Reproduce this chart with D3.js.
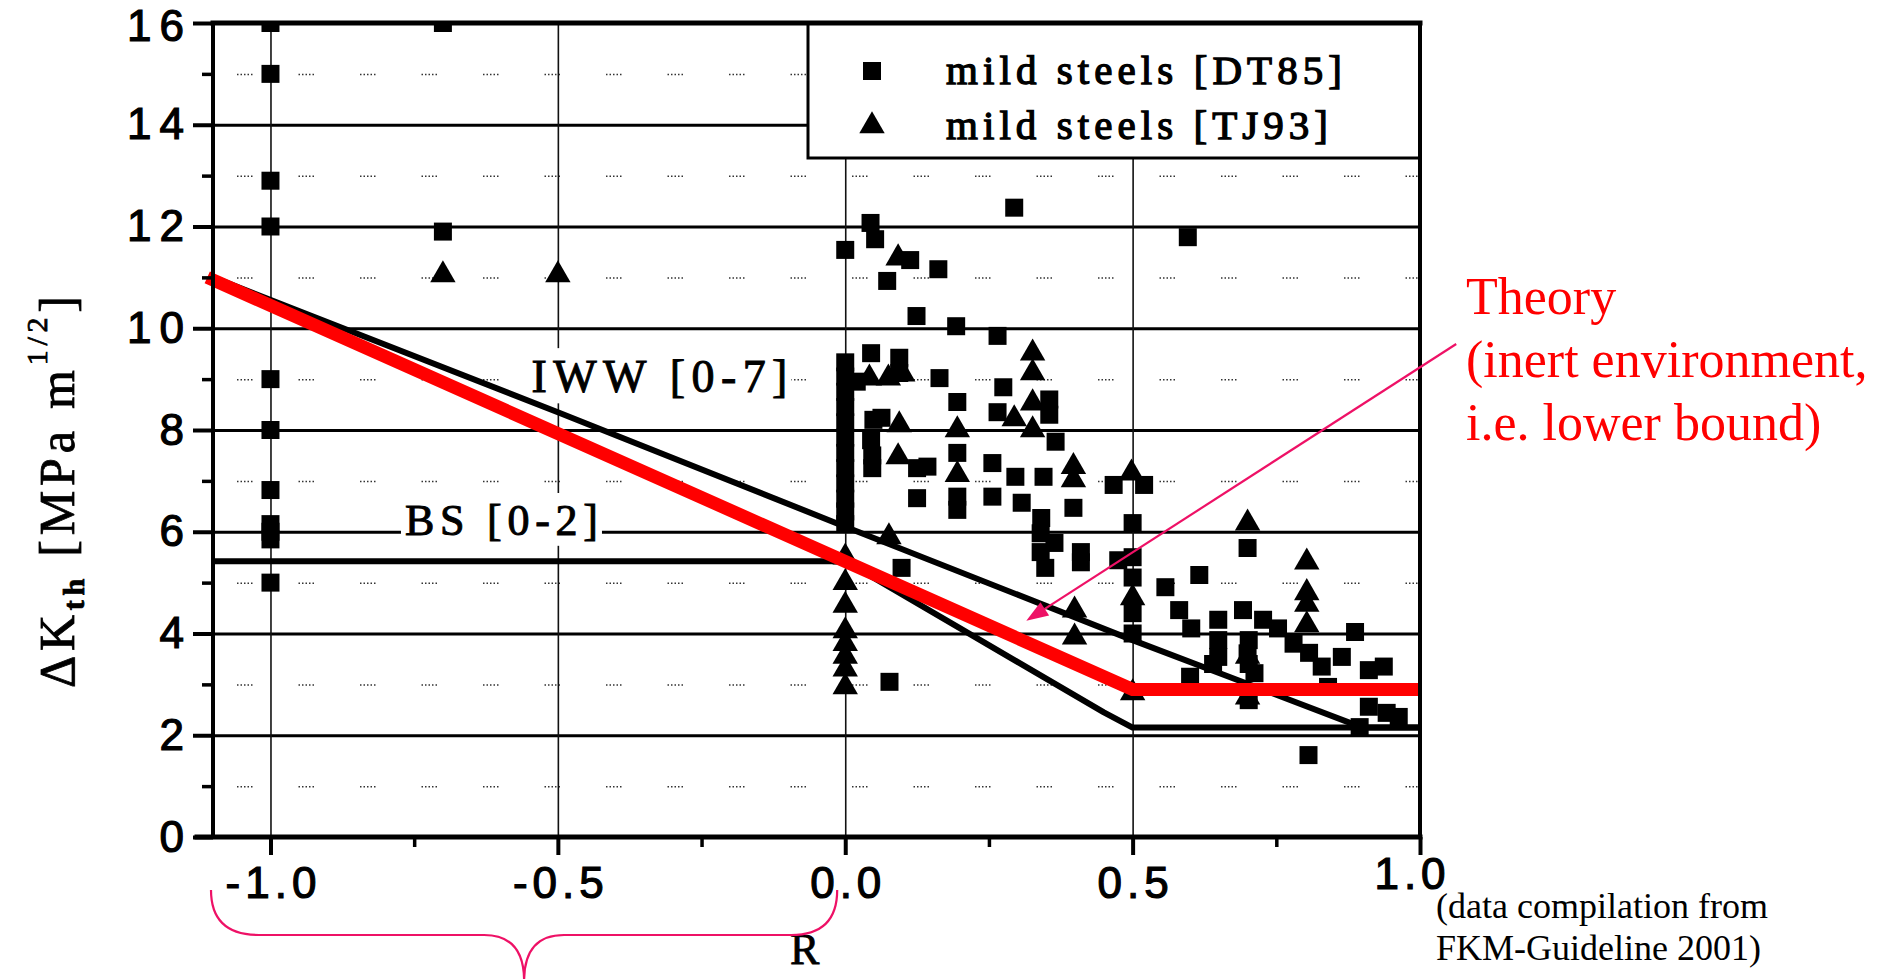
<!DOCTYPE html>
<html lang="en">
<head>
    <meta charset="UTF-8">
    <title>Threshold dKth vs R - mild steels</title>
    <script src="https://cdn.jsdelivr.net/npm/d3@7"></script>
    <style>
        body { margin: 0; background: #fff; }
        svg { display: block; background: #fff; }
    </style>
</head>
<body>
<script>

    // mild steels [DT85]  (R, dKth)
    var dt85 = [
        [-1.0,16.0],[-1.0,15.0],[-1.0,12.9],[-1.0,12.0],[-1.0,9.0],[-1.0,8.0],[-1.0,6.82],[-1.0,6.15],[-1.0,6.0],[-1.0,5.85],[-1.0,5.0],
        [-0.7,16.0],[-0.7,11.9],
        [0.0,11.54],[0.0,9.33],[0.0,9.05],[0.0,8.75],[0.0,8.45],[0.0,8.15],[0.0,7.85],[0.0,7.55],[0.0,7.25],[0.0,6.95],[0.0,6.65],[0.0,6.4],[0.0,6.15],[0.02,8.95],
        [0.044,12.07],[0.052,11.75],[0.113,11.34],[0.162,11.16],[0.073,10.93],[0.124,10.24],[0.193,10.04],[0.265,9.85],[0.294,12.37],[0.596,11.79],
        [0.045,9.51],[0.094,9.42],[0.094,9.12],[0.164,9.02],[0.275,8.84],[0.195,8.55],[0.355,8.6],[0.355,8.3],[0.265,8.35],[0.366,7.77],
        [0.049,8.2],[0.063,8.24],[0.045,7.8],[0.047,7.5],[0.047,7.25],[0.195,7.55],[0.195,6.69],[0.195,6.43],[0.125,7.25],[0.143,7.28],[0.125,6.66],
        [0.256,7.35],[0.296,7.08],[0.256,6.69],[0.345,7.08],[0.307,6.57],[0.397,6.47],[0.341,6.27],
        [0.467,6.92],[0.52,6.92],[0.5,6.17],[0.098,5.29],[0.077,3.05],
        [0.34,5.97],[0.34,5.6],[0.364,5.78],[0.348,5.29],[0.41,5.6],[0.41,5.4],
        [0.475,5.44],[0.5,5.5],[0.5,5.1],[0.5,4.4],[0.5,4.0],
        [0.557,4.91],[0.616,5.15],[0.7,5.68],[0.581,4.46],[0.602,4.1],[0.649,4.27],[0.649,3.87],[0.649,3.54],[0.64,3.4],[0.6,3.15],
        [0.692,4.46],[0.727,4.27],[0.753,4.1],[0.702,3.87],[0.7,3.61],[0.702,3.4],[0.712,3.22],[0.702,2.69],
        [0.887,4.03],[0.78,3.8],[0.807,3.62],[0.829,3.35],[0.864,3.54],[0.84,2.95],[0.911,3.28],[0.937,3.35],
        [0.911,2.56],[0.942,2.44],[0.963,2.36],[0.895,2.16],[0.806,1.61]
    ];

    // mild steels [TJ93]
    var tj93 = [
        [-0.7,11.05],[-0.5,11.05],
        [0.092,11.38],[0.326,9.51],[0.326,9.12],[0.042,9.02],[0.075,9.02],[0.1,9.1],[0.326,8.53],[0.294,8.22],[0.326,8.0],
        [0.094,8.1],[0.092,7.47],[0.195,8.0],[0.195,7.12],[0.397,7.28],[0.397,7.02],[0.498,7.15],
        [0.0,5.5],[0.0,5.0],[0.0,4.55],[0.0,4.05],[0.0,3.8],[0.0,3.55],[0.0,3.3],[0.0,2.95],
        [0.076,5.9],[0.399,4.46],[0.399,3.93],[0.5,4.7],[0.5,2.83],[0.7,6.17],
        [0.803,5.4],[0.803,4.8],[0.803,4.57],[0.803,4.17],[0.7,3.55],[0.7,2.75]
    ];

    // design curves
    var iwwCurve = [[-1.1, 11.0], [-0.5, 8.35], [0.0, 6.1], [0.5, 3.87], [0.9, 2.15], [1.0, 2.15]];
    var bsCurve = [[-1.1, 5.42], [0.0, 5.42], [0.2, 4.1], [0.45, 2.45], [0.5, 2.15], [1.0, 2.15]];
    var theoryCurve = [[-1.11, 11.0], [0.5, 2.9], [1.0, 2.9]];

    var yMajor = [0, 2, 4, 6, 8, 10, 12, 14, 16];
    var yMinor = [1, 3, 5, 7, 9, 11, 13, 15];
    var yGrid = [2, 4, 6, 8, 10, 12, 14];
    var xMajor = [-1.0, -0.5, 0.0, 0.5, 1.0];
    var xMinor = [-0.75, -0.25, 0.25, 0.75];
    var xGrid = [-1.0, -0.5, 0.0, 0.5];

    var legendText = ["mild steels [DT85]", "mild steels [TJ93]"];
    var theoryText = ["Theory", "(inert environment,", "i.e. lower bound)"];
    var noteText = ["(data compilation from", "FKM-Guideline 2001)"];

    var width = 1890;
    var height = 979;
    var serif = "'Liberation Serif', 'Times New Roman', serif";
    var sans = "'Liberation Sans', Arial, sans-serif";
    var pink = "#ee1166";

    var svg = d3.select("body")
        .append("svg")
        .attr("width", width)
        .attr("height", height);

    var x = d3.scaleLinear().domain([-1.1, 1.0]).range([213, 1420]);
    var y = d3.scaleLinear().domain([0, 16]).range([837, 23]);
    var plotW = x.range()[1] - x.range()[0];
    var plotH = y.range()[0] - y.range()[1];

    // grid
    svg.append("g")
        .attr("transform", "translate(" + x.range()[0] + ",0)")
        .call(d3.axisLeft(y).tickValues(yGrid).tickSize(-plotW).tickFormat(""))
        .call(function (g) { g.select(".domain").remove(); })
        .selectAll("line")
        .attr("stroke", "#000")
        .attr("stroke-width", 3);

    svg.append("g")
        .attr("transform", "translate(" + x.range()[0] + ",0)")
        .call(d3.axisLeft(y).tickValues(yMinor).tickSize(-plotW).tickFormat(""))
        .call(function (g) { g.select(".domain").remove(); })
        .selectAll("line")
        .attr("stroke", "#333")
        .attr("stroke-width", 1.5)
        .attr("stroke-dasharray", "1.5 2 1.5 2 1.5 2 1.5 2 1.5 46")
        .attr("stroke-dashoffset", -24);

    svg.append("g")
        .attr("transform", "translate(0," + y.range()[0] + ")")
        .call(d3.axisBottom(x).tickValues(xGrid).tickSize(-plotH).tickFormat(""))
        .call(function (g) { g.select(".domain").remove(); })
        .selectAll("line")
        .attr("stroke", "#111")
        .attr("stroke-width", 1.6);

    // curve labels with white boxes
    var curveLabels = [
        {text: "IWW [0-7]", r: -0.546, k: 8.75, size: 46, len: 256},
        {text: "BS [0-2]", r: -0.766, k: 5.94, size: 44, len: 193}
    ];
    curveLabels.forEach(function (d) {
        svg.append("rect")
            .attr("x", x(d.r) - 4)
            .attr("y", y(d.k) - d.size * 0.95)
            .attr("width", d.len + 8)
            .attr("height", d.size * 1.2)
            .attr("fill", "#fff");
        svg.append("text")
            .attr("x", x(d.r))
            .attr("y", y(d.k))
            .attr("font-family", serif)
            .attr("font-size", d.size)
            .attr("textLength", d.len)
            .attr("lengthAdjust", "spacing")
            .attr("stroke", "#000")
            .attr("stroke-width", 1)
            .text(d.text);
    });

    var line = d3.line()
        .x(function (d) { return x(d[0]); })
        .y(function (d) { return y(d[1]); });

    svg.append("path")
        .datum(bsCurve)
        .attr("d", line)
        .attr("fill", "none")
        .attr("stroke", "#000")
        .attr("stroke-width", 6)
        .attr("stroke-linejoin", "round");

    svg.append("path")
        .datum(iwwCurve)
        .attr("d", line)
        .attr("fill", "none")
        .attr("stroke", "#000")
        .attr("stroke-width", 6)
        .attr("stroke-linejoin", "round");

    // data
    svg.append("clipPath").attr("id", "plotClip")
        .append("rect")
        .attr("x", x.range()[0])
        .attr("y", y.range()[1])
        .attr("width", plotW)
        .attr("height", plotH);

    var marks = svg.append("g").attr("clip-path", "url(#plotClip)");
    var square = d3.symbol().type(d3.symbolSquare).size(324);
    var triangle = d3.symbol().type(d3.symbolTriangle).size(280);

    marks.selectAll("path.dt85")
        .data(dt85)
        .enter()
        .append("path")
        .attr("class", "dt85")
        .attr("d", square)
        .attr("transform", function (d) { return "translate(" + x(d[0]) + "," + y(d[1]) + ")"; })
        .attr("fill", "#000");

    marks.selectAll("path.tj93")
        .data(tj93)
        .enter()
        .append("path")
        .attr("class", "tj93")
        .attr("d", triangle)
        .attr("transform", function (d) { return "translate(" + x(d[0]) + "," + y(d[1]) + ")"; })
        .attr("fill", "#000");

    // theory line
    svg.append("path")
        .datum(theoryCurve)
        .attr("d", line)
        .attr("fill", "none")
        .attr("stroke", "#ff0000")
        .attr("stroke-width", 13)
        .attr("stroke-linejoin", "miter");

    // legend
    var lx = 808, ly = y.range()[1];
    svg.append("rect")
        .attr("x", lx)
        .attr("y", ly)
        .attr("width", x.range()[1] - lx)
        .attr("height", 135)
        .attr("fill", "#fff")
        .attr("stroke", "#000")
        .attr("stroke-width", 3);

    var legend = svg.selectAll("g.legend")
        .data(legendText)
        .enter()
        .append("g")
        .attr("class", "legend")
        .attr("transform", function (d, i) { return "translate(" + (lx + 64) + "," + (ly + 48 + i * 55) + ")"; });

    legend.append("path")
        .attr("d", function (d, i) { return i === 0 ? square() : triangle(); })
        .attr("fill", "#000");

    legend.append("text")
        .attr("x", 74)
        .attr("y", 13)
        .attr("font-family", serif)
        .attr("font-size", 41)
        .attr("textLength", function (d, i) { return i === 0 ? 396 : 382; })
        .attr("lengthAdjust", "spacing")
        .attr("stroke", "#000")
        .attr("stroke-width", 1.3)
        .text(function (d) { return d; });

    // frame
    var frame = svg.append("g").attr("stroke", "#000").attr("stroke-linecap", "square");
    frame.append("line").attr("x1", x.range()[0]).attr("x2", x.range()[0]).attr("y1", y.range()[1]).attr("y2", y.range()[0]).attr("stroke-width", 4);
    frame.append("line").attr("x1", x.range()[1]).attr("x2", x.range()[1]).attr("y1", y.range()[1]).attr("y2", y.range()[0]).attr("stroke-width", 4);
    frame.append("line").attr("x1", x.range()[0]).attr("x2", x.range()[1]).attr("y1", y.range()[1]).attr("y2", y.range()[1]).attr("stroke-width", 5);
    frame.append("line").attr("x1", x.range()[0] - 16).attr("x2", x.range()[1]).attr("y1", y.range()[0]).attr("y2", y.range()[0]).attr("stroke-width", 5);

    // axes
    var ls = 8;
    var yAxis = svg.append("g")
        .attr("transform", "translate(" + x.range()[0] + ",0)")
        .call(d3.axisLeft(y).tickValues(yMajor).tickSize(20).tickPadding(9).tickFormat(d3.format("d")));
    yAxis.select(".domain").remove();
    yAxis.selectAll("line").attr("stroke", "#000").attr("stroke-width", 4);
    yAxis.selectAll("text")
        .attr("fill", "#000")
        .attr("stroke", "#000")
        .attr("stroke-width", 1.2)
        .attr("font-family", sans)
        .attr("font-size", 44)
        .attr("letter-spacing", ls)
        .attr("dx", ls)
        .attr("dy", function (d) { return d === 16 ? "0.4em" : "0.32em"; });

    var yAxisMinor = svg.append("g")
        .attr("transform", "translate(" + x.range()[0] + ",0)")
        .call(d3.axisLeft(y).tickValues(yMinor).tickSize(11).tickFormat(""));
    yAxisMinor.select(".domain").remove();
    yAxisMinor.selectAll("line").attr("stroke", "#000").attr("stroke-width", 3.5);

    var xAxis = svg.append("g")
        .attr("transform", "translate(0," + y.range()[0] + ")")
        .call(d3.axisBottom(x).tickValues(xMajor).tickSize(18).tickPadding(12)
            .tickFormat(function (d) { return d.toFixed(1); }));
    xAxis.select(".domain").remove();
    xAxis.selectAll("line").attr("stroke", "#000").attr("stroke-width", 4);
    xAxis.selectAll("text")
        .attr("fill", "#000")
        .attr("stroke", "#000")
        .attr("stroke-width", 1.2)
        .attr("font-family", sans)
        .attr("font-size", 44)
        .attr("letter-spacing", 5)
        .attr("dx", function (d) { return d === 1 ? -8 : 2.5; })
        .attr("dy", function (d) { return d === 1 ? "0.5em" : "0.71em"; });

    var xAxisMinor = svg.append("g")
        .attr("transform", "translate(0," + y.range()[0] + ")")
        .call(d3.axisBottom(x).tickValues(xMinor).tickSize(10).tickFormat(""));
    xAxisMinor.select(".domain").remove();
    xAxisMinor.selectAll("line").attr("stroke", "#000").attr("stroke-width", 3.5);

    // axis titles
    var yTitle = svg.append("text")
        .attr("transform", "translate(74,688) rotate(-90)")
        .attr("font-family", serif)
        .attr("font-size", 50)
        .attr("textLength", 392)
        .attr("lengthAdjust", "spacing")
        .attr("stroke", "#000")
        .attr("stroke-width", 0.8);
    yTitle.append("tspan").text("\u0394K");
    yTitle.append("tspan").attr("font-size", 30).attr("font-weight", "bold").attr("dy", 10).text("th");
    yTitle.append("tspan").attr("dy", -10).text(" [MPa m");
    yTitle.append("tspan").attr("font-size", 30).attr("dy", -27).text("1/2");
    yTitle.append("tspan").attr("dy", 27).text("]");

    svg.append("text")
        .attr("x", 790)
        .attr("y", 964)
        .attr("font-family", serif)
        .attr("font-size", 44)
        .attr("stroke", "#000")
        .attr("stroke-width", 0.8)
        .text("R");

    // brace under negative R
    var bx0 = x(-1.1) - 2, bx1 = x(-0.014), bm = (bx0 + bx1) / 2, by = 935;
    var brace = d3.path();
    brace.moveTo(bx0, 890);
    brace.quadraticCurveTo(bx0, by, bx0 + 48, by);
    brace.lineTo(bm - 40, by);
    brace.quadraticCurveTo(bm, by, bm, by + 46);
    brace.moveTo(bm, by + 46);
    brace.quadraticCurveTo(bm, by, bm + 40, by);
    brace.lineTo(bx1 - 46, by);
    brace.quadraticCurveTo(bx1, by, bx1, 890);
    svg.append("path")
        .attr("d", brace.toString())
        .attr("fill", "none")
        .attr("stroke", pink)
        .attr("stroke-width", 2.2);

    // theory annotation
    var arrowFrom = [1.063, 9.69], arrowTo = [0.315, 4.25];
    var ax0 = x(arrowFrom[0]), ay0 = y(arrowFrom[1]), ax1 = x(arrowTo[0]), ay1 = y(arrowTo[1]);
    var ang = Math.atan2(ay1 - ay0, ax1 - ax0);
    var headL = 22, headW = 8;
    var bxh = ax1 - headL * Math.cos(ang), byh = ay1 - headL * Math.sin(ang);
    svg.append("line")
        .attr("x1", ax0).attr("y1", ay0)
        .attr("x2", bxh).attr("y2", byh)
        .attr("stroke", pink)
        .attr("stroke-width", 2.2);
    svg.append("path")
        .attr("d", "M" + ax1 + "," + ay1 +
            "L" + (bxh + headW * Math.sin(ang)) + "," + (byh - headW * Math.cos(ang)) +
            "L" + (bxh - headW * Math.sin(ang)) + "," + (byh + headW * Math.cos(ang)) + "Z")
        .attr("fill", pink);

    svg.selectAll("text.theory")
        .data(theoryText)
        .enter()
        .append("text")
        .attr("class", "theory")
        .attr("x", 1466)
        .attr("y", function (d, i) { return 314 + i * 63; })
        .attr("font-family", serif)
        .attr("font-size", 52)
        .attr("fill", "#ff0000")
        .text(function (d) { return d; });

    svg.selectAll("text.note")
        .data(noteText)
        .enter()
        .append("text")
        .attr("class", "note")
        .attr("x", 1436)
        .attr("y", function (d, i) { return 918 + i * 42; })
        .attr("font-family", serif)
        .attr("font-size", 36)
        .attr("fill", "#000")
        .text(function (d) { return d; });

</script>
</body>
</html>
